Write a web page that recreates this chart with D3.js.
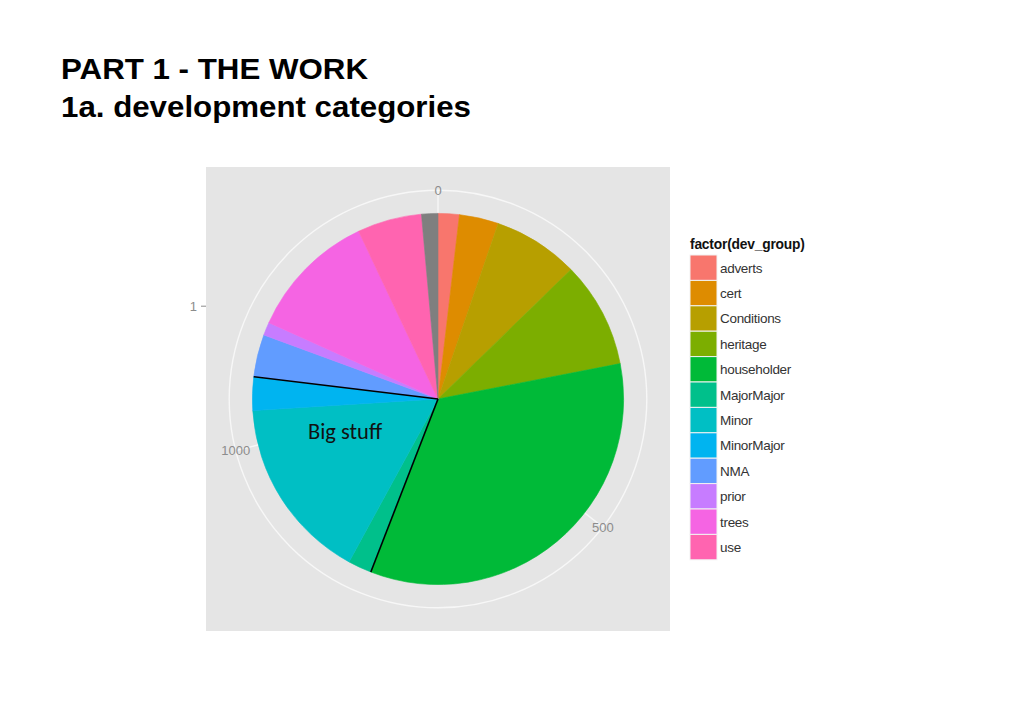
<!DOCTYPE html>
<html>
<head>
<meta charset="utf-8">
<script src="https://cdn.jsdelivr.net/npm/d3@7"></script>
<style>
  body { margin: 0; background: #fff; }
  svg { display: block; }
</style>
</head>
<body>
<svg id="chart" width="1024" height="709"></svg>
<script>
'use strict';

// counts per dev_group (total ~1408)
var groups = ["adverts", "cert", "Conditions", "heritage", "householder", "MajorMajor",
              "Minor", "MinorMajor", "NMA", "prior", "trees", "use"];
var counts = [26, 48, 105, 130, 478, 29, 226, 41, 52, 16, 158, 79];
var naCount = 20;   // the grey NA slice at the end
var groupColours = ["#F8766D", "#DE8C00", "#B79F00", "#7CAE00", "#00BA38", "#00C08B",
                    "#00BFC4", "#00B4F0", "#619CFF", "#C77CFF", "#F564E3", "#FF64B0"];
var thetaBreaks = [0, 500, 1000];
var rBreaks = [1];
var bigStuff = ["MajorMajor", "Minor", "MinorMajor"];

var width = 1024;
var height = 709;
var panelX = 206, panelY = 167, panelSize = 464;
var cx = panelX + panelSize / 2;
var cy = panelY + panelSize / 2;
var pieR = panelSize * 0.4;
var outerR = panelSize * 0.45;

var svg = d3.select("#chart");

// title
var title = svg.append("g").attr("font-family", "Liberation Sans, Arial, sans-serif")
    .attr("font-weight", "bold").attr("font-size", "30px").attr("fill", "#000");
title.append("text").attr("x", 61).attr("y", 79)
    .attr("textLength", 307).attr("lengthAdjust", "spacingAndGlyphs")
    .text("PART 1 - THE WORK");
title.append("text").attr("x", 61).attr("y", 117)
    .attr("textLength", 410).attr("lengthAdjust", "spacingAndGlyphs")
    .text("1a. development categories");

var slices = groups.map((g, i) => ({group: g, value: counts[i], colour: groupColours[i]}));
slices.push({group: "NA", value: naCount, colour: "#7F7F7F"});
var total = d3.sum(slices, d => d.value);

var theta = d3.scaleLinear().domain([0, total]).range([0, 2 * Math.PI]);
var rScale = d3.scaleLinear().domain([0.5, 1.5]).range([0, pieR]);

// panel
svg.append("rect")
    .attr("x", panelX).attr("y", panelY)
    .attr("width", panelSize).attr("height", panelSize)
    .attr("fill", "#E5E5E5");

var plot = svg.append("g").attr("transform", `translate(${cx},${cy})`);

// grid: outer circle and theta spokes
plot.append("circle").attr("r", outerR)
    .attr("fill", "none").attr("stroke", "#F7F7F7").attr("stroke-width", 1.4);
plot.selectAll("line.spoke")
    .data(thetaBreaks)
    .enter().append("line")
    .attr("class", "spoke")
    .attr("x1", 0).attr("y1", 0)
    .attr("x2", d => outerR * Math.sin(theta(d)))
    .attr("y2", d => -outerR * Math.cos(theta(d)))
    .attr("stroke", "#F7F7F7").attr("stroke-width", 1.4);

// pie
var pie = d3.pie().value(d => d.value).sort(null)
    .startAngle(0).endAngle(2 * Math.PI);
var arcs = pie(slices);
var arc = d3.arc().innerRadius(0).outerRadius(pieR);

plot.selectAll("path.slice")
    .data(arcs)
    .enter().append("path")
    .attr("class", "slice")
    .attr("d", arc)
    .attr("fill", d => d.data.colour)
    .attr("stroke", d => d.data.colour)
    .attr("stroke-width", 0.6);

// theta labels
plot.selectAll("text.theta")
    .data(thetaBreaks)
    .enter().append("text")
    .attr("class", "theta")
    .attr("x", d => outerR * Math.sin(theta(d)))
    .attr("y", d => -outerR * Math.cos(theta(d)) + 4.5)
    .attr("text-anchor", "middle")
    .attr("font-family", "Liberation Sans, Arial, sans-serif")
    .attr("font-size", "13px")
    .attr("fill", "#8C8C8C")
    .text(d => d);

// r axis on the left
var rAxis = svg.append("g").attr("font-family", "Liberation Sans, Arial, sans-serif");
rBreaks.forEach(b => {
    var y = cy - rScale(b);
    rAxis.append("line").attr("x1", panelX - 5).attr("x2", panelX).attr("y1", y).attr("y2", y)
        .attr("stroke", "#8C8C8C").attr("stroke-width", 1);
    rAxis.append("text").attr("x", panelX - 9).attr("y", y + 4.5)
        .attr("text-anchor", "end").attr("font-size", "13px").attr("fill", "#8C8C8C")
        .text(b);
});

// black lines round the "Big stuff" group
var bigArcs = arcs.filter(d => bigStuff.includes(d.data.group));
var bigStart = d3.min(bigArcs, d => d.startAngle);
var bigEnd = d3.max(bigArcs, d => d.endAngle);
[bigStart, bigEnd].forEach(a => {
    plot.append("line")
        .attr("x1", 0).attr("y1", 0)
        .attr("x2", pieR * Math.sin(a)).attr("y2", -pieR * Math.cos(a))
        .attr("stroke", "#000").attr("stroke-width", 1.6);
});
plot.append("text")
    .attr("x", -93).attr("y", 40)
    .attr("text-anchor", "middle")
    .attr("font-family", "Carlito, Calibri, 'Open Sans', sans-serif")
    .attr("font-size", "22.5px")
    .attr("fill", "#111")
    .text("Big stuff");

// legend
var legend = svg.append("g").attr("transform", "translate(690,0)")
    .attr("font-family", "Liberation Sans, Arial, sans-serif");
legend.append("text").attr("x", 0).attr("y", 249)
    .attr("font-size", "13.8px").attr("font-weight", "bold").attr("fill", "#111")
    .attr("letter-spacing", "-0.2px")
    .text("factor(dev_group)");

var keyH = 25.4, keyW = 27, keyTop = 255;
var key = legend.selectAll("g.key")
    .data(slices.filter(d => d.group !== "NA"))
    .enter().append("g")
    .attr("class", "key")
    .attr("transform", (d, i) => `translate(0,${keyTop + i * keyH})`);
key.append("rect")
    .attr("width", keyW).attr("height", keyH)
    .attr("fill", d => d.colour)
    .attr("stroke", "#F2F2F2").attr("stroke-width", 1);
key.append("text")
    .attr("x", keyW + 3).attr("y", keyH / 2 + 4.8)
    .attr("font-size", "13.5px").attr("fill", "#333")
    .attr("letter-spacing", "-0.3px")
    .text(d => d.group);
</script>
</body>
</html>
